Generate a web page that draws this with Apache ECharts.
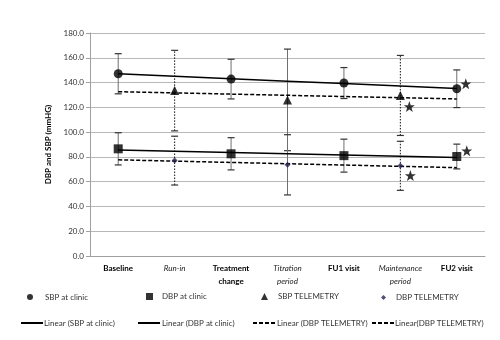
<!DOCTYPE html>
<html>
<head>
<meta charset="utf-8">
<script src="https://cdn.jsdelivr.net/npm/echarts@6/dist/echarts.min.js"></script>
<style>html,body{margin:0;padding:0;background:#fff}#c{width:500px;height:340px}</style>
</head>
<body>
<div id="c"></div>
<script>
// ---- data ----
var categories = ['Baseline', 'Run-in', 'Treatment\nchange', 'Titration\nperiod', 'FU1 visit', 'Maintenance\nperiod', 'FU2 visit'];
var italicCategories = ['Run-in', 'Titration\nperiod', 'Maintenance\nperiod'];
var yTicks = [0, 20, 40, 60, 80, 100, 120, 140, 160, 180];

var sbpClinic    = [147.1, null, 142.8, null, 139.6, null, 135.0];
var sbpClinicErr = [16.2, null, 16.0, null, 12.5, null, 15.2];
var dbpClinic    = [86.5, null, 82.5, null, 81.0, null, 80.3];
var dbpClinicErr = [13.0, null, 13.0, null, 13.3, null, 10.0];
var sbpTele      = [null, 133.5, null, 126.0, null, 129.6, null];
var sbpTeleErr   = [null, 32.5, null, 41.0, null, 32.3, null];
var dbpTele      = [null, 77.0, null, 73.6, null, 72.8, null];
var dbpTeleErr   = [null, 19.7, null, 24.3, null, 19.8, null];
var sbpStars     = [null, null, null, null, null, 120.7, 139.0];
var dbpStars     = [null, null, null, null, null, 64.9, 84.9];

// ---- helpers ----
function trend(vals) {
  var xs = [], ys = [];
  vals.forEach(function (v, i) { if (v != null) { xs.push(i); ys.push(v); } });
  var n = xs.length, mx = 0, my = 0;
  for (var i = 0; i < n; i++) { mx += xs[i]; my += ys[i]; }
  mx /= n; my /= n;
  var sxy = 0, sxx = 0;
  for (i = 0; i < n; i++) { sxy += (xs[i] - mx) * (ys[i] - my); sxx += (xs[i] - mx) * (xs[i] - mx); }
  var b = sxy / sxx, a = my - b * mx;
  return categories.map(function (c, k) { return +(a + b * k).toFixed(3); });
}
function errData(vals, errs) {
  var out = [];
  vals.forEach(function (v, i) { if (v != null && errs[i] != null) out.push([i, v - errs[i], v + errs[i]]); });
  return out;
}
function errSeries(name, vals, errs, dotted) {
  return {
    type: 'custom', name: name, z: 1, silent: true,
    data: errData(vals, errs),
    renderItem: function (params, api) {
      var idx = api.value(0);
      var lo = api.coord([idx, api.value(1)]);
      var hi = api.coord([idx, api.value(2)]);
      var solid = !dotted || categories[idx] === 'Titration\nperiod';
      var st = { stroke: solid ? '#707070' : '#111', lineWidth: 1, lineDash: solid ? null : [1.5, 1.5] };
      var cap = { stroke: '#333', lineWidth: 1.2 };
      var w = 3.5;
      return { type: 'group', children: [
        { type: 'line', shape: { x1: lo[0], y1: lo[1], x2: hi[0], y2: hi[1] }, style: st },
        { type: 'line', shape: { x1: lo[0] - w, y1: lo[1], x2: lo[0] + w, y2: lo[1] }, style: cap },
        { type: 'line', shape: { x1: hi[0] - w, y1: hi[1], x2: hi[0] + w, y2: hi[1] }, style: cap }
      ]};
    }
  };
}
var starPath = 'path://M12,0 L14.9,8.1 L23.4,8.1 L16.5,13.1 L19.1,21.3 L12,16.3 L4.9,21.3 L7.5,13.1 L0.6,8.1 L9.1,8.1 Z';
var solidIcon = 'path://M0,0H22V2H0Z';
var dashIcon = 'path://M0,0H4V2H0Z M6,0H10V2H6Z M12,0H16V2H12Z M18,0H22V2H18Z';
var FONT = 'Lato, "Open Sans", sans-serif';

function legendAt(name, icon, left, top, w, h, pad) {
  return {
    data: [{ name: name, icon: icon }], left: left, top: top, itemWidth: w, itemHeight: h, selectedMode: false,
    padding: 0, textStyle: { fontSize: 8, color: '#333', fontFamily: FONT, padding: [0, 0, 0, pad] }
  };
}

var chart = echarts.init(document.getElementById('c'), null, { renderer: 'canvas' });
chart.setOption({
  animation: false,
  backgroundColor: '#fff',
  grid: { left: 90, right: 15, top: 33, bottom: 84 },
  legend: [
    legendAt('SBP at clinic', 'circle', 27, 293, 6, 6, 7),
    legendAt('DBP at clinic', 'rect', 146, 292.5, 7, 7, 4),
    legendAt('SBP TELEMETRY', 'triangle', 261, 292.5, 7, 7, 5),
    legendAt('DBP TELEMETRY', 'diamond', 381, 293.5, 5, 5, 5),
    legendAt('Linear (SBP at clinic)', solidIcon, 21, 319, 22, 2, -4),
    legendAt('Linear (DBP at clinic)', solidIcon, 138, 319, 22, 2, -3),
    legendAt('Linear (DBP TELEMETRY)', dashIcon, 253, 319, 22, 2, -3),
    legendAt('Linear(DBP TELEMETRY)', dashIcon, 372, 319, 22, 2, -4)
  ],
  xAxis: {
    type: 'category', data: categories, boundaryGap: true,
    axisLine: { lineStyle: { color: '#a0a0a0', width: 1 } },
    axisTick: { show: false },
    axisLabel: {
      interval: 0, margin: 6, fontFamily: FONT, fontSize: 8, color: '#000', lineHeight: 13,
      formatter: function (v) {
        var tag = italicCategories.indexOf(v) >= 0 ? 'i' : 'b';
        return v.split('\n').map(function (s) { return '{' + tag + '|' + s + '}'; }).join('\n');
      },
      rich: {
        b: { fontWeight: 'bold', fontSize: 8, fontFamily: FONT, color: '#000', lineHeight: 13 },
        i: { fontStyle: 'italic', fontSize: 8, fontFamily: FONT, color: '#222', lineHeight: 13 }
      }
    }
  },
  yAxis: {
    type: 'value', min: yTicks[0], max: yTicks[yTicks.length - 1], interval: yTicks[1] - yTicks[0],
    name: 'DBP and SBP (mmHG)', nameLocation: 'middle', nameGap: 31, nameRotate: 90,
    nameTextStyle: { fontFamily: FONT, fontSize: 8, fontWeight: 'bold', color: '#000' },
    axisLine: { show: true, lineStyle: { color: '#a0a0a0' } },
    axisTick: { show: true, length: 4, lineStyle: { color: '#a0a0a0' } },
    axisLabel: { fontFamily: FONT, fontSize: 8, color: '#333', margin: 6, formatter: function (v) { return v.toFixed(1); } },
    splitLine: { lineStyle: { color: '#b8b8b8', width: 1 } }
  },
  series: [
    errSeries('errSbpClinic', sbpClinic, sbpClinicErr, false),
    errSeries('errDbpClinic', dbpClinic, dbpClinicErr, false),
    errSeries('errSbpTele', sbpTele, sbpTeleErr, true),
    errSeries('errDbpTele', dbpTele, dbpTeleErr, true),
    { type: 'line', name: 'Linear (SBP at clinic)', data: trend(sbpClinic), symbol: 'none', z: 2,
      lineStyle: { color: '#000', width: 1.5 }, itemStyle: { color: '#000' } },
    { type: 'line', name: 'Linear (DBP at clinic)', data: trend(dbpClinic), symbol: 'none', z: 2,
      lineStyle: { color: '#000', width: 1.5 }, itemStyle: { color: '#000' } },
    { type: 'line', name: 'Linear (DBP TELEMETRY)', data: trend(sbpTele), symbol: 'none', z: 2,
      lineStyle: { color: '#000', width: 1.5, type: [4, 2] }, itemStyle: { color: '#000' } },
    { type: 'line', name: 'Linear(DBP TELEMETRY)', data: trend(dbpTele), symbol: 'none', z: 2,
      lineStyle: { color: '#000', width: 1.5, type: [4, 2] }, itemStyle: { color: '#000' } },
    { type: 'scatter', name: 'SBP at clinic', data: sbpClinic, symbol: 'circle', symbolSize: 9, z: 3,
      itemStyle: { color: '#000' } },
    { type: 'scatter', name: 'DBP at clinic', data: dbpClinic, symbol: 'rect', symbolSize: 9, z: 3,
      itemStyle: { color: '#000' } },
    { type: 'scatter', name: 'SBP TELEMETRY', data: sbpTele, symbol: 'triangle', symbolSize: 9, z: 3,
      itemStyle: { color: '#000' } },
    { type: 'scatter', name: 'DBP TELEMETRY', data: dbpTele, symbol: 'diamond', symbolSize: 6, z: 3,
      itemStyle: { color: '#2e1f52' } },
    { type: 'scatter', name: 'starsSbp', data: sbpStars, symbol: starPath, symbolSize: 11, symbolOffset: [9, 0], z: 3,
      itemStyle: { color: '#000' } },
    { type: 'scatter', name: 'starsDbp', data: dbpStars, symbol: starPath, symbolSize: 11, symbolOffset: [10, 0], z: 3,
      itemStyle: { color: '#000' } }
  ]
});
</script>
</body>
</html>
